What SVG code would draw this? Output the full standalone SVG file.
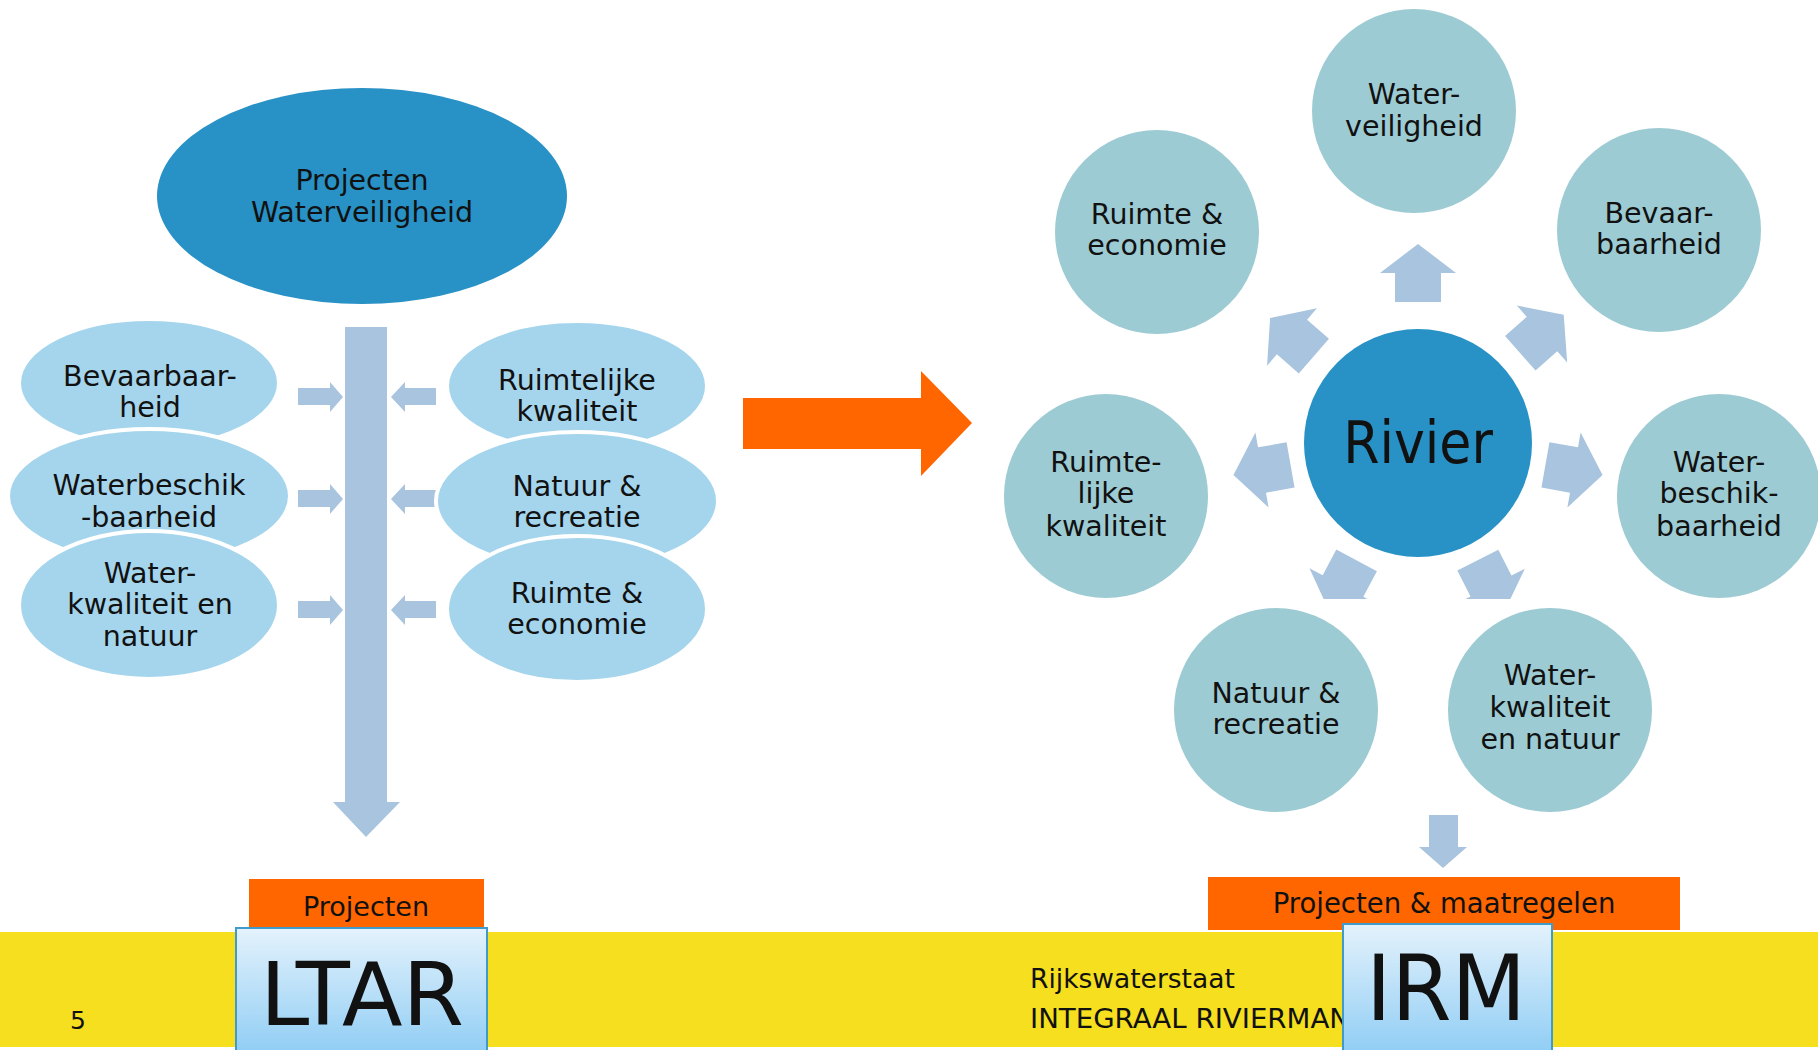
<svg xmlns="http://www.w3.org/2000/svg" width="1818" height="1050" viewBox="0 0 1818 1050">
  <style>
    text { font-family: "DejaVu Sans", Verdana, sans-serif; fill: #111; }
    .lbl { font-size: 28.5px; text-anchor: middle; }
    .ftr { font-size: 26.5px; text-anchor: start; }
    .cond { font-family: "DejaVu Sans Condensed", "DejaVu Sans", sans-serif; text-anchor: middle; }
    .ell { fill: #A5D5EC; stroke: #ffffff; stroke-width: 4; }
    .teal { fill: #9DCBD3; }
    .dark { fill: #2891C5; }
    .conn { fill: #A9C4DE; }
    .orange { fill: #FF6600; }
    .box { fill: url(#boxgrad); stroke: #3F9BCC; stroke-width: 2; }
  </style>
  <defs>
    <linearGradient id="boxgrad" x1="0" y1="0" x2="0" y2="1">
      <stop offset="0" stop-color="#E4F2FC"/>
      <stop offset="1" stop-color="#8DCCF4"/>
    </linearGradient>
    <path id="rarrow" d="M -29,-23 L 0,-23 L 0,-38 L 29,0 L 0,38 L 0,23 L -29,23 Z"/>
    <clipPath id="clipLow">
      <rect x="1200" y="480" width="400" height="119"/>
    </clipPath>
  </defs>

  <rect x="0" y="0" width="1818" height="1050" fill="#ffffff"/>

  <!-- Bottom band -->
  <rect x="0" y="932" width="1818" height="115" fill="#F5DF1E"/>

  <!-- Connectors -->
  <g id="connectors">
    <path class="conn" d="M 345,327 L 387,327 L 387,802 L 400,802 L 366,837 L 333,802 L 345,802 Z"/>
    <path class="conn" d="M 298,388 L 330,388 L 330,382 L 343,397 L 330,412 L 330,405 L 298,405 Z"/>
    <path class="conn" d="M 298,490 L 330,490 L 330,484 L 343,499 L 330,514 L 330,507 L 298,507 Z"/>
    <path class="conn" d="M 298,601 L 330,601 L 330,595 L 343,610 L 330,625 L 330,618 L 298,618 Z"/>
    <path class="conn" d="M 436,388 L 405,388 L 405,382 L 391,397 L 405,412 L 405,405 L 436,405 Z"/>
    <path class="conn" d="M 436,490 L 405,490 L 405,484 L 391,499 L 405,514 L 405,507 L 436,507 Z"/>
    <path class="conn" d="M 436,601 L 405,601 L 405,595 L 391,610 L 405,625 L 405,618 L 436,618 Z"/>
    <path class="orange" d="M 743,398 L 921,398 L 921,371 L 972,423 L 921,476 L 921,449 L 743,449 Z"/>
    <use href="#rarrow" class="conn" transform="translate(1418,273) rotate(-90)"/>
    <use href="#rarrow" class="conn" transform="translate(1542,334) rotate(-41.5)"/>
    <use href="#rarrow" class="conn" transform="translate(1574,470) rotate(10)"/>
    <use href="#rarrow" class="conn" transform="translate(1262,470) rotate(170)"/>
    <use href="#rarrow" class="conn" transform="translate(1292,337) rotate(-139)"/>
    <g clip-path="url(#clipLow)">
      <use href="#rarrow" class="conn" transform="translate(1491,586) rotate(63)"/>
      <use href="#rarrow" class="conn" transform="translate(1343,586) rotate(118)"/>
    </g>
    <path class="conn" d="M 1429,815 L 1458,815 L 1458,847 L 1467,847 L 1443,868 L 1419,847 L 1429,847 Z"/>
  </g>

  <!-- Left panel nodes -->
  <g id="node-projecten-waterveiligheid">
    <ellipse class="dark" cx="362" cy="196" rx="205" ry="108"/>
    <text class="lbl" x="362" y="190">Projecten</text>
    <text class="lbl" x="362" y="222">Waterveiligheid</text>
  </g>

  <g id="node-bevaarbaarheid">
    <ellipse class="ell" cx="149" cy="383" rx="130" ry="64"/>
    <text class="lbl" x="150" y="386">Bevaarbaar-</text>
    <text class="lbl" x="150" y="417">heid</text>
  </g>
  <g id="node-waterbeschikbaarheid">
    <ellipse class="ell" cx="149" cy="496" rx="141" ry="67"/>
    <text class="lbl" x="149" y="495">Waterbeschik</text>
    <text class="lbl" x="149" y="527">-baarheid</text>
  </g>
  <g id="node-waterkwaliteit">
    <ellipse class="ell" cx="149" cy="605" rx="130" ry="74"/>
    <text class="lbl" x="150" y="583">Water-</text>
    <text class="lbl" x="150" y="614">kwaliteit en</text>
    <text class="lbl" x="150" y="646">natuur</text>
  </g>

  <g id="node-ruimtelijke-kwaliteit">
    <ellipse class="ell" cx="577" cy="386" rx="130" ry="65"/>
    <text class="lbl" x="577" y="390">Ruimtelijke</text>
    <text class="lbl" x="577" y="421">kwaliteit</text>
  </g>
  <g id="node-natuur-recreatie">
    <ellipse class="ell" cx="577" cy="501" rx="141" ry="69"/>
    <text class="lbl" x="577" y="496">Natuur &amp;</text>
    <text class="lbl" x="577" y="527">recreatie</text>
  </g>
  <g id="node-ruimte-economie">
    <ellipse class="ell" cx="577" cy="609" rx="130" ry="73"/>
    <text class="lbl" x="577" y="603">Ruimte &amp;</text>
    <text class="lbl" x="577" y="634">economie</text>
  </g>

  <!-- Right panel nodes -->
  <g id="node-rivier">
    <circle class="dark" cx="1418" cy="443" r="114"/>
    <text class="cond" x="1418" y="463" font-size="58">Rivier</text>
  </g>
  <g id="node-r-waterveiligheid">
    <circle class="teal" cx="1414" cy="111" r="102"/>
    <text class="lbl" x="1414" y="104">Water-</text>
    <text class="lbl" x="1414" y="136">veiligheid</text>
  </g>
  <g id="node-r-bevaarbaarheid">
    <circle class="teal" cx="1659" cy="230" r="102"/>
    <text class="lbl" x="1659" y="223">Bevaar-</text>
    <text class="lbl" x="1659" y="254">baarheid</text>
  </g>
  <g id="node-r-waterbeschikbaarheid">
    <circle class="teal" cx="1719" cy="496" r="102"/>
    <text class="lbl" x="1719" y="472">Water-</text>
    <text class="lbl" x="1719" y="503">beschik-</text>
    <text class="lbl" x="1719" y="536">baarheid</text>
  </g>
  <g id="node-r-waterkwaliteit">
    <circle class="teal" cx="1550" cy="710" r="102"/>
    <text class="lbl" x="1550" y="685">Water-</text>
    <text class="lbl" x="1550" y="717">kwaliteit</text>
    <text class="lbl" x="1550" y="749">en natuur</text>
  </g>
  <g id="node-r-natuur-recreatie">
    <circle class="teal" cx="1276" cy="710" r="102"/>
    <text class="lbl" x="1276" y="703">Natuur &amp;</text>
    <text class="lbl" x="1276" y="734">recreatie</text>
  </g>
  <g id="node-r-ruimtelijke-kwaliteit">
    <circle class="teal" cx="1106" cy="496" r="102"/>
    <text class="lbl" x="1106" y="472">Ruimte-</text>
    <text class="lbl" x="1106" y="503">lijke</text>
    <text class="lbl" x="1106" y="536">kwaliteit</text>
  </g>
  <g id="node-r-ruimte-economie">
    <circle class="teal" cx="1157" cy="232" r="102"/>
    <text class="lbl" x="1157" y="224">Ruimte &amp;</text>
    <text class="lbl" x="1157" y="255">economie</text>
  </g>

  <!-- Footer -->
  <g id="footer-text">
    <text x="78" y="1029" style="font-size:25px; text-anchor:middle">5</text>
    <text class="ftr" x="1030" y="988">Rijkswaterstaat</text>
    <text class="ftr" x="1030" y="1028" textLength="320" lengthAdjust="spacingAndGlyphs">INTEGRAAL RIVIERMAN</text>
  </g>

  <g id="node-projecten">
    <rect class="orange" x="249" y="879" width="235" height="50"/>
    <text x="366" y="916" style="font-size:27px; text-anchor:middle">Projecten</text>
  </g>
  <g id="node-ltar">
    <rect class="box" x="236" y="928" width="251" height="130"/>
    <text class="cond" x="362" y="1025" font-size="88" textLength="204" lengthAdjust="spacingAndGlyphs">LTAR</text>
  </g>

  <g id="node-projecten-maatregelen">
    <rect class="orange" x="1208" y="877" width="472" height="53"/>
    <text x="1444" y="913" style="font-size:27.5px; text-anchor:middle">Projecten &amp; maatregelen</text>
  </g>
  <g id="node-irm">
    <rect class="box" x="1343" y="924" width="209" height="134"/>
    <text class="cond" x="1446" y="1020" font-size="90" textLength="160" lengthAdjust="spacingAndGlyphs">IRM</text>
  </g>
</svg>
